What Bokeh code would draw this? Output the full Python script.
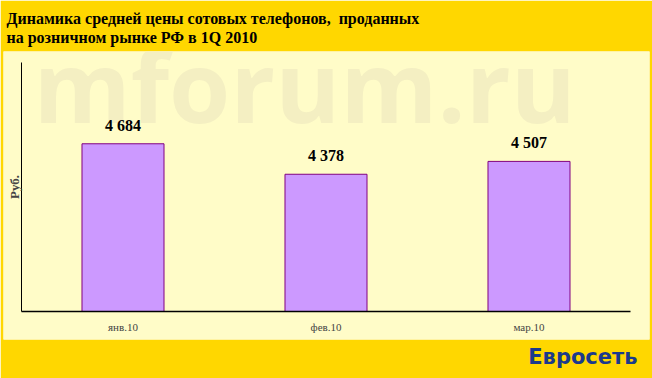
from bokeh.plotting import figure
from bokeh.models import Range1d, LinearAxis, FixedTicker, Title, ColumnDataSource
from bokeh.core.properties import value
from bokeh.embed import file_html
from bokeh.resources import INLINE

categories = ["янв.10", "фев.10", "мар.10"]
prices = [4684, 4378, 4507]
title_lines = ["Динамика средней цены сотовых телефонов,\u00a0 проданных",
               "на розничном рынке РФ в 1Q 2010"]
y_label = "Руб."
watermark = "mforum.ru"
y_min, y_max = 3000, 5500

# layout helpers (pixels of the frame)
FRAME_L, FRAME_R, FRAME_T, FRAME_B = 3, 649, 51, 339
AX_L, AX_R, AX_T, AX_B = 21, 630, 62, 311
n = len(categories)
xpx = (AX_R - AX_L) / n
ypx = (y_max - y_min) / (AX_B - AX_T)

x_start = -(AX_L - FRAME_L) / xpx
x_end = n + (FRAME_R - AX_R) / xpx
y_start = y_min - (FRAME_B - AX_B) * ypx
y_end = y_max + (AX_T - FRAME_T) * ypx

xs = [i + 0.5 for i in range(n)]
src = ColumnDataSource(dict(x=xs, top=prices, cat=categories,
                            lbl=[f"{v:,}".replace(",", " ") for v in prices]))

p = figure(width=652, height=378, output_backend="svg", toolbar_location=None,
           x_axis_type=None, y_axis_type=None,
           x_range=Range1d(x_start, x_end), y_range=Range1d(y_start, y_end),
           min_border_left=FRAME_L, min_border_right=652 - FRAME_R,
           min_border_top=FRAME_T, min_border_bottom=378 - FRAME_B)
p.border_fill_color = "#FFD700"
p.background_fill_color = "#FFFCC8"
p.outline_line_color = None
p.grid.visible = False

p.title.text = "\n".join(title_lines)
p.title.text_font = "Liberation Serif"
p.title.text_font_size = "16px"
p.title.text_font_style = "bold"
p.title.text_color = "#000000"
p.title.align = "left"
p.title.offset = 3
p.title.standoff = 11
p.title.text_line_height = 1.1

# watermark (decorative)
p.text(x=[(33 - AX_L) / xpx], y=[y_max - (84 - AX_T) * ypx], text=[watermark],
       text_font=value("Open Sans"), text_font_style="bold",
       text_font_size="99px", text_color="#F4EFC2", level="underlay",
       text_baseline="alphabetic", text_align="left")

p.vbar(x="x", top="top", bottom=y_min, width=0.404, source=src,
       fill_color="#CC99FF", line_color="#800080", line_width=1)

p.text(x="x", y="top", text="lbl", source=src, y_offset=-10,
       text_align="center", text_baseline="bottom",
       text_font=value("Liberation Serif"), text_font_style="bold",
       text_font_size="16px", text_color="#000000")

yax = LinearAxis(fixed_location=0, bounds=(y_min, y_max), ticker=FixedTicker(ticks=[]),
                 axis_line_color="#000000", axis_line_width=1,
                 major_tick_line_color=None, minor_tick_line_color=None,
                 major_tick_out=0, major_label_text_font_size="0px",
                 axis_label=y_label, axis_label_text_font="Liberation Serif",
                 axis_label_text_font_style="bold", axis_label_text_font_size="13px",
                 axis_label_standoff=0)
p.add_layout(yax, "left")

xax = LinearAxis(fixed_location=y_min, bounds=(0, n), ticker=FixedTicker(ticks=xs),
                 major_label_overrides={x: c for x, c in zip(xs, categories)},
                 axis_line_color="#000000", axis_line_width=1.5,
                 major_tick_line_color=None, minor_tick_line_color=None,
                 major_tick_out=0, major_tick_in=0,
                 major_label_text_font="Liberation Serif",
                 major_label_text_font_size="11px", major_label_standoff=9)
p.add_layout(xax, "below")

logo = Title(text="Евросеть", align="right", offset=12, standoff=6,
             text_font="DejaVu Sans", text_font_style="bold",
             text_font_size="21px", text_color="#1B3A8C")
p.add_layout(logo, "below")

open("out.html", "w").write(file_html(p, INLINE))
